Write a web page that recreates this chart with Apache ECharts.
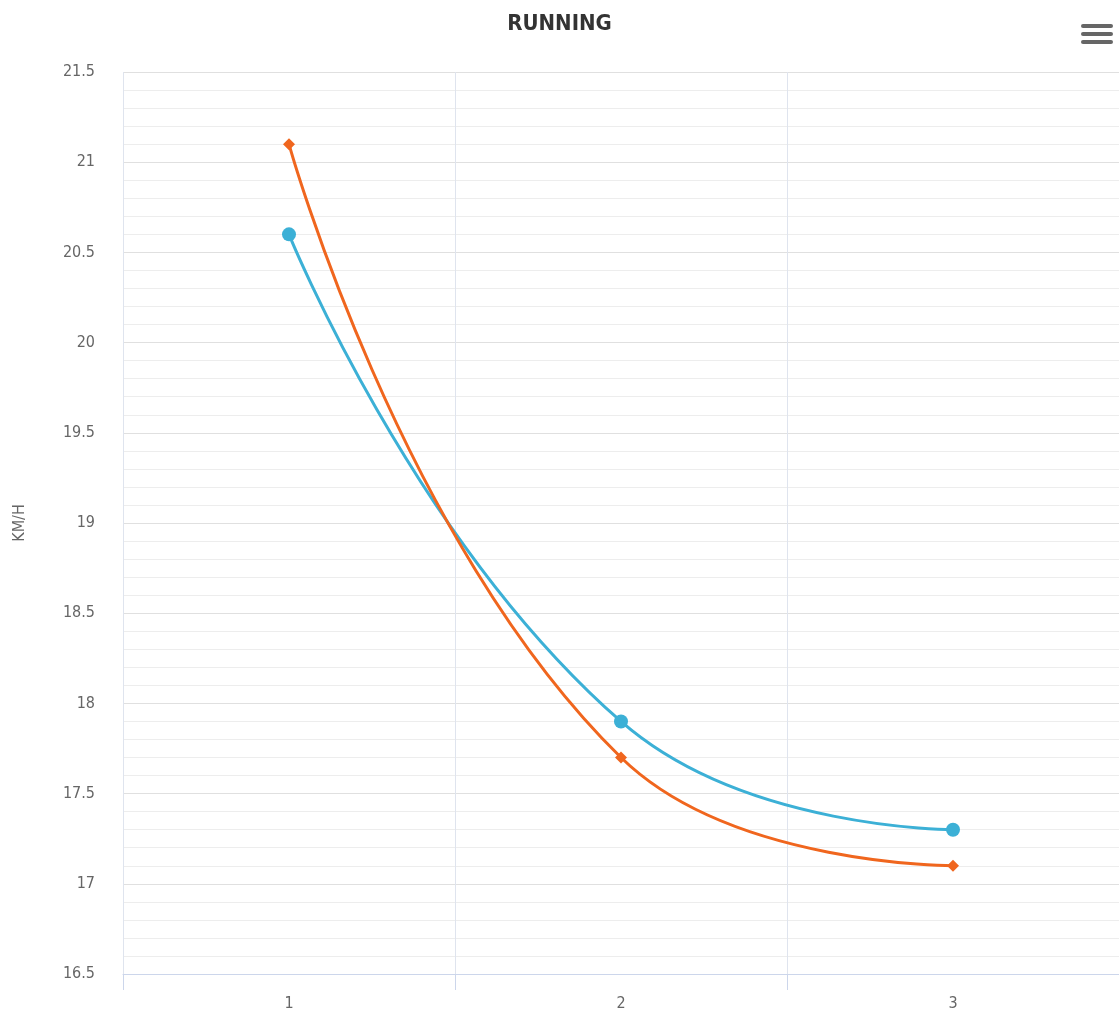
<!DOCTYPE html>
<html><head><meta charset="utf-8">
<script src="https://cdn.jsdelivr.net/npm/echarts@6/dist/echarts.min.js"></script>
<style>html,body{margin:0;padding:0;background:#fff}#c{width:1119px;height:1019px}</style>
</head><body><div id="c"></div>
<script>
const categories = ['1', '2', '3'];
const seriesBlue = [20.6, 17.9, 17.3];
const seriesOrange = [21.1, 17.7, 17.1];
const titleText = 'RUNNING';
const yAxisName = 'KM/H';

const chart = echarts.init(document.getElementById('c'));
const labelFont = "'DejaVu Sans Condensed', 'Liberation Sans Narrow', sans-serif";
chart.setOption({
  animation: false,
  title: {text: titleText, left: 'center', top: 8,
    textStyle: {fontFamily: labelFont, fontSize: 22, fontWeight: 'bold', color: '#333'}},
  grid: {left: 123, right: 0, top: 72, bottom: 45, containLabel: false},
  xAxis: {
    type: 'category', data: categories, boundaryGap: true,
    axisLine: {lineStyle: {color: '#ccd6eb'}},
    axisTick: {show: true, length: 16, lineStyle: {color: '#ccd6eb'}},
    axisLabel: {fontFamily: labelFont, fontSize: 16, color: '#666', margin: 22},
    splitLine: {show: true, lineStyle: {color: '#dfe4ee'}}
  },
  yAxis: {
    type: 'value', min: 16.5, max: 21.5, interval: 0.5,
    name: yAxisName, nameLocation: 'middle', nameGap: 95, nameRotate: 90,
    nameTextStyle: {fontFamily: labelFont, fontSize: 16, color: '#666'},
    axisLine: {show: false}, axisTick: {show: false},
    axisLabel: {fontFamily: labelFont, fontSize: 16, color: '#666', margin: 28,
      formatter: v => String(+v.toFixed(1))},
    splitLine: {show: true, lineStyle: {color: '#e0e0e0'}},
    minorTick: {show: false, splitNumber: 5},
    minorSplitLine: {show: true, lineStyle: {color: '#ededed'}}
  },
  series: [
    {type: 'line', data: seriesBlue, smooth: 0.5, symbol: 'circle', symbolSize: 14,
      itemStyle: {color: '#3cb0d6'}, lineStyle: {width: 3, color: '#3cb0d6'}},
    {type: 'line', data: seriesOrange, smooth: 0.5, symbol: 'diamond', symbolSize: 12,
      itemStyle: {color: '#f0661e'}, lineStyle: {width: 3, color: '#f0661e'}}
  ],
  graphic: [
    {type: 'rect', right: 6, top: 24, shape: {width: 32, height: 4, r: 2}, style: {fill: '#666'}},
    {type: 'rect', right: 6, top: 32, shape: {width: 32, height: 4, r: 2}, style: {fill: '#666'}},
    {type: 'rect', right: 6, top: 40, shape: {width: 32, height: 4, r: 2}, style: {fill: '#666'}}
  ]
});
</script></body></html>
